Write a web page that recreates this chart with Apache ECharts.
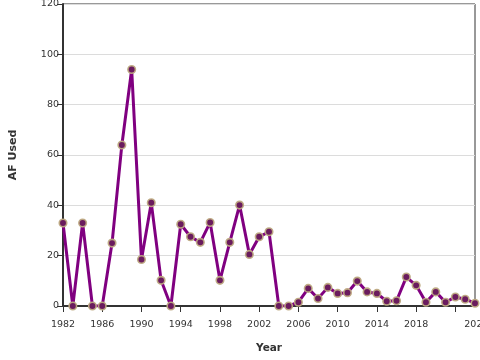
<!DOCTYPE html>
<html>
<head>
<meta charset="utf-8">
<script src="https://cdn.jsdelivr.net/npm/echarts@6/dist/echarts.min.js"></script>
<style>
html,body{margin:0;padding:0;background:#fff;}
#chart{width:480px;height:360px;}
</style>
</head>
<body>
<div id="chart"></div>
<script>
var years = [];
for (var y = 1982; y <= 2024; y++) years.push(String(y));
var afUsed = [33, 0, 33, 0, 0, 25, 64, 94, 18.5, 41, 10.2, 0, 32.5, 27.5, 25.3, 33.2, 10.2, 25.3, 40.1, 20.5, 27.5, 29.5, 0, 0, 1.5, 7, 3, 7.4, 5, 5.3, 9.9, 5.6, 5, 1.9, 2.1, 11.5, 8.2, 1.5, 5.6, 1.5, 3.6, 2.7, 1.1];
var yTicks = [0, 20, 40, 60, 80, 100, 120];
var xTitle = 'Year';
var yTitle = 'AF Used';

var chart = echarts.init(document.getElementById('chart'), null, {renderer: 'canvas'});
var font = 'DejaVu Sans';
chart.setOption({
  animation: false,
  backgroundColor: '#fff',
  grid: {left: 63, right: 5, top: 4, bottom: 54, containLabel: false, outerBoundsMode: 'none', show: true, borderColor: '#333', borderWidth: 1, backgroundColor: 'transparent'},
  xAxis: {
    type: 'category',
    data: years,
    boundaryGap: false,
    name: xTitle,
    nameLocation: 'middle',
    nameGap: 37,
    nameTextStyle: {fontFamily: font, fontWeight: 'bold', fontSize: 10.5, color: '#333'},
    axisLine: {lineStyle: {color: '#333', width: 2}},
    axisTick: {interval: 3, length: 6, lineStyle: {color: '#333', width: 1}},
    axisLabel: {
      interval: 3, margin: 14, fontFamily: font, fontSize: 9.5, color: '#333',
      formatter: function (v) { return v === '2022' ? '{last|' + v + '}' : v; },
      rich: {last: {fontFamily: font, fontSize: 9.5, color: '#333', padding: [0, 0, 0, 42]}}
    },
    splitLine: {show: false}
  },
  yAxis: {
    type: 'value',
    min: yTicks[0],
    max: yTicks[yTicks.length - 1],
    interval: 20,
    name: yTitle,
    nameLocation: 'middle',
    nameGap: 44,
    nameTextStyle: {fontFamily: font, fontWeight: 'bold', fontSize: 11, color: '#333'},
    axisLine: {show: true, lineStyle: {color: '#333', width: 2}},
    axisTick: {show: true, length: 6, lineStyle: {color: '#333'}},
    axisLabel: {margin: 4, fontFamily: font, fontSize: 9.5, color: '#333'},
    splitLine: {lineStyle: {color: '#dcdcdc', width: 1}}
  },
  series: [{
    type: 'line',
    data: afUsed,
    symbol: 'circle',
    symbolSize: 7.5,
    showAllSymbol: true,
    lineStyle: {color: '#800080', width: 3},
    itemStyle: {color: '#6a1b5e', borderColor: 'rgba(190,170,130,0.95)', borderWidth: 1.6},
    z: 3
  }]
});
</script>
</body>
</html>
